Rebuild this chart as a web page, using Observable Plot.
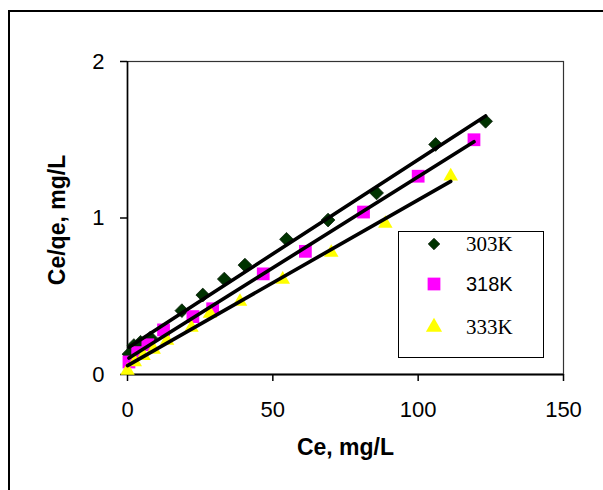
<!DOCTYPE html>
<html>
<head>
<meta charset="utf-8">
<script src="https://cdn.jsdelivr.net/npm/d3@7"></script>
<script src="https://cdn.jsdelivr.net/npm/@observablehq/plot@0.6"></script>
<style>
  html, body { margin: 0; padding: 0; background: #fff; }
  #wrap { position: relative; width: 603px; height: 490px; overflow: hidden; background: #fff; }
  #border { position: absolute; left: 8px; top: 10px; width: 700px; height: 600px;
            border-left: 2px solid #000; border-top: 2px solid #000; box-sizing: border-box; }
  #chart { position: absolute; left: 0; top: 0; }
  #chart svg g[aria-label$="tick label"] { font-size: 22px; }
  #legend { position: absolute; left: 398px; top: 231px; width: 146px; height: 127px;
            border: 1.5px solid #000; box-sizing: border-box; background: #fff; }
  .row { position: absolute; left: 0; height: 24px; width: 140px; }
  .row svg { position: absolute; left: 23px; top: 0; }
  .row span { position: absolute; left: 67px; top: 0px; line-height: 24px; color: #000; }
</style>
</head>
<body>
<div id="wrap">
  <div id="border"></div>
  <div id="chart"></div>
  <div id="legend"></div>
</div>
<script>
// Series names
const seriesNames = ["303K", "318K", "333K"];
// Ce (mg/L) and Ce/qe (mg/L) for each temperature
const ce303 = [0.5, 2.2, 4.5, 7.9, 18.7, 25.9, 33.3, 40.4, 54.7, 69.0, 85.7, 106.0, 123.2];
const cq303 = [0.13, 0.185, 0.206, 0.234, 0.408, 0.508, 0.61, 0.699, 0.864, 0.987, 1.16, 1.47, 1.618];
const ce318 = [0.5, 3.5, 7.0, 12.4, 22.5, 29.3, 46.7, 61.2, 81.2, 100.0, 119.2];
const cq318 = [0.08, 0.14, 0.19, 0.285, 0.37, 0.42, 0.643, 0.787, 1.038, 1.267, 1.5];
const ce333 = [0.0, 2.5, 5.5, 9.0, 13.6, 22.0, 28.4, 38.7, 53.4, 70.1, 88.7, 111.2];
const cq333 = [0.025, 0.08, 0.12, 0.16, 0.217, 0.30, 0.39, 0.466, 0.607, 0.779, 0.964, 1.267];
// Axis ticks
const xTicks = [0, 50, 100, 150];
const yTicks = [0, 1, 2];
const xTitle = "Ce, mg/L";
const yTitle = "Ce/qe, mg/L";

const toRows = (xs, ys) => xs.map((x, i) => ({x, y: ys[i]}));
const d303 = toRows(ce303, cq303);
const d318 = toRows(ce318, cq318);
const d333 = toRows(ce333, cq333);

const serif = "'Liberation Serif', 'Times New Roman', serif";
const sans = "'Liberation Sans', Arial, sans-serif";
const styles = [
  {symbol: "diamond2", fill: "#003300", stroke: "#0b1f0b", r: 6.2, lr: 5.2, font: serif, fs: 21},
  {symbol: "square", fill: "#ff00ff", stroke: "none", r: 7.2, lr: 7.2, font: sans, fs: 20},
  {symbol: "triangle", fill: "#ffff00", stroke: "none", r: 5.4, lr: 6, font: serif, fs: 21}
];
const datasets = [d303, d318, d333];

const chart = Plot.plot({
  width: 603,
  height: 490,
  marginLeft: 127,
  marginRight: 40,
  marginTop: 61,
  marginBottom: 116,
  style: {fontFamily: sans, fontSize: "22px", background: "transparent", color: "#000"},
  x: {domain: [0, 150]},
  y: {domain: [0, 2]},
  marks: [
    Plot.frame({stroke: "#333", strokeWidth: 1.2}),
    Plot.axisX({ticks: xTicks, tickSize: 7, tickPadding: 20, label: null, fontSize: 22, strokeWidth: 1.5, tickFormat: d => String(d)}),
    Plot.axisY({ticks: yTicks, tickSize: 7, tickPadding: 16, label: null, fontSize: 22, strokeWidth: 1.5, tickFormat: d => String(d)}),
    Plot.ruleY([0], {stroke: "#000", strokeWidth: 2.2}),
    Plot.ruleX([0], {stroke: "#000", strokeWidth: 1.6}),
    ...datasets.map((d, i) => Plot.dot(d, {x: "x", y: "y", symbol: () => styles[i].symbol, fill: styles[i].fill, stroke: styles[i].stroke, strokeWidth: 0.8, r: styles[i].r})),
    ...datasets.map(d => Plot.linearRegressionY(d, {x: "x", y: "y", stroke: "#000", strokeWidth: 3.6, ci: 0})),
    Plot.text([xTitle], {frameAnchor: "bottom", textAnchor: "middle", lineAnchor: "middle", dy: 73, fontWeight: "bold", fontSize: 23}),
    Plot.text([yTitle], {frameAnchor: "left", textAnchor: "middle", lineAnchor: "middle", dx: -70, dy: 2, rotate: -90, fontWeight: "bold", fontSize: 23})
  ]
});
document.getElementById("chart").appendChild(chart);

// Legend
const legend = document.getElementById("legend");
const rowTops = [0, 40, 83];
seriesNames.forEach((name, i) => {
  const s = styles[i];
  const row = document.createElement("div");
  row.className = "row";
  row.style.top = rowTops[i] + "px";
  const sym = {diamond2: d3.symbolDiamond2, square: d3.symbolSquare, triangle: d3.symbolTriangle}[s.symbol];
  const path = d3.symbol(sym, Math.PI * s.lr * s.lr)();
  const svg = d3.create("svg").attr("width", 24).attr("height", 24);
  svg.append("path").attr("transform", "translate(12,12)").attr("d", path)
    .attr("fill", s.fill).attr("stroke", s.stroke).attr("stroke-width", 0.8);
  row.appendChild(svg.node());
  const span = document.createElement("span");
  span.textContent = name;
  span.style.fontFamily = s.font;
  span.style.fontSize = s.fs + "px";
  row.appendChild(span);
  legend.appendChild(row);
});
</script>
</body>
</html>
